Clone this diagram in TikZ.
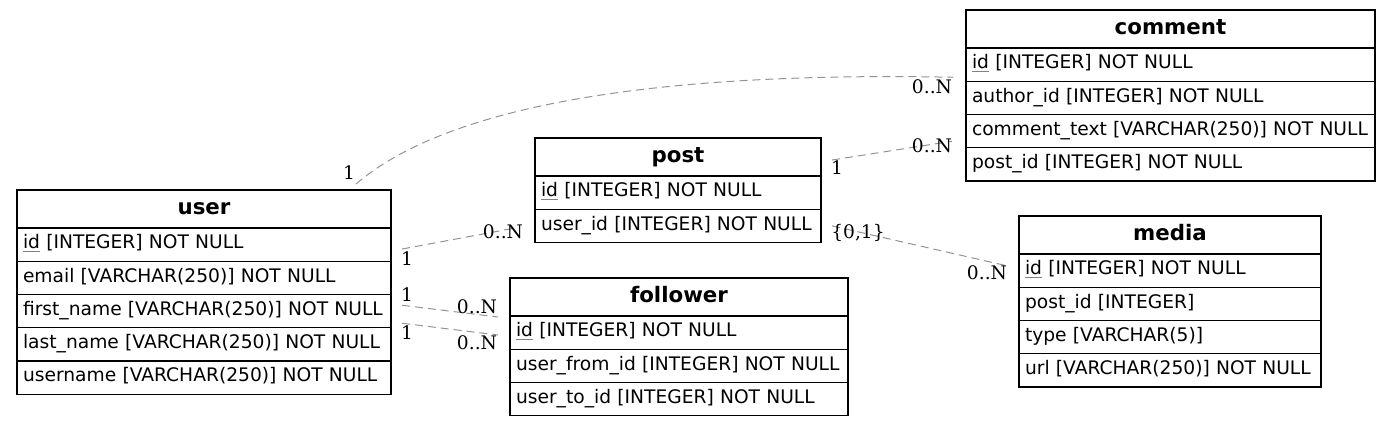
\documentclass[tikz,border=0pt]{standalone}
\usepackage{fontspec}
\setmainfont{DejaVu Sans}
\newfontfamily\cardfont{DejaVu Serif}
\usetikzlibrary{positioning}

\tikzset{
  head/.style={draw, line width=0.8pt, anchor=north west, minimum width=#1, minimum height=28.5pt,
    inner sep=0pt, outer sep=0pt, text height=10.5pt, text depth=3pt, font=\fontsize{16}{18}\selectfont\bfseries},
  row/.style={draw, line width=0.8pt, anchor=north west, text width=#1, minimum height=24.94pt,
    inner xsep=4.5pt, inner ysep=0pt, outer sep=0pt, align=left, text height=10.5pt, text depth=4pt,
    font=\fontsize{14}{16}\selectfont},
  fk/.style={gray!85, line width=0.75pt, dash pattern=on 6pt off 3.75pt},
  card/.style={font=\cardfont\fontsize{14}{16}\selectfont, inner sep=0pt}
}
\newcommand{\pkid}{{\color{gray}\underline{\color{black}id}}}

\begin{document}
\begin{tikzpicture}[x=0.75pt,y=-0.75pt]
    \useasboundingbox (0,0) rectangle (1391,426);

    % user
    \node[head=280.5pt] (user-h) at (17,190) {user};
    \node[row=271.5pt] (user-id) at (user-h.south west) {\pkid{} [INTEGER] NOT NULL};
    \node[row=271.5pt] (user-em) at (user-id.south west) {email [VARCHAR(250)] NOT NULL};
    \node[row=271.5pt] (user-fn) at (user-em.south west) {first\_name [VARCHAR(250)] NOT NULL};
    \node[row=271.5pt] (user-ln) at (user-fn.south west) {last\_name [VARCHAR(250)] NOT NULL};
    \node[row=271.5pt] (user-un) at (user-ln.south west) {username [VARCHAR(250)] NOT NULL};

    % post
    \node[head=214.5pt] (post-h) at (535,138) {post};
    \node[row=205.5pt] (post-id) at (post-h.south west) {\pkid{} [INTEGER] NOT NULL};
    \node[row=205.5pt] (post-uid) at (post-id.south west) {user\_id [INTEGER] NOT NULL};

    % comment
    \node[head=306.75pt] (comment-h) at (966,10) {comment};
    \node[row=297.75pt] (comment-id) at (comment-h.south west) {\pkid{} [INTEGER] NOT NULL};
    \node[row=297.75pt] (comment-aid) at (comment-id.south west) {author\_id [INTEGER] NOT NULL};
    \node[row=297.75pt] (comment-txt) at (comment-aid.south west) {comment\_text [VARCHAR(250)] NOT NULL};
    \node[row=297.75pt] (comment-pid) at (comment-txt.south west) {post\_id [INTEGER] NOT NULL};

    % follower
    \node[head=253.5pt] (follower-h) at (510,278) {follower};
    \node[row=244.5pt] (follower-id) at (follower-h.south west) {\pkid{} [INTEGER] NOT NULL};
    \node[row=244.5pt] (follower-from) at (follower-id.south west) {user\_from\_id [INTEGER] NOT NULL};
    \node[row=244.5pt] (follower-to) at (follower-from.south west) {user\_to\_id [INTEGER] NOT NULL};

    % media
    \node[head=226.5pt] (media-h) at (1019,216) {media};
    \node[row=217.5pt] (media-id) at (media-h.south west) {\pkid{} [INTEGER] NOT NULL};
    \node[row=217.5pt] (media-pid) at (media-id.south west) {post\_id [INTEGER]};
    \node[row=217.5pt] (media-type) at (media-pid.south west) {type [VARCHAR(5)]};
    \node[row=217.5pt] (media-url) at (media-type.south west) {url [VARCHAR(250)] NOT NULL};

    % relations
    \draw[fk] ([xshift=-26.25pt,yshift=4.5pt]user-h.north east) .. controls +(104,-89) and +(-253,-5) .. ([xshift=-9.75pt,yshift=3pt]comment-aid.north west);
    \draw[fk] ([xshift=8.25pt,yshift=-2.25pt]post-h.east) -- ([xshift=-10.5pt,yshift=4.9pt]comment-txt.south west);
    \draw[fk] ([xshift=8.25pt,yshift=-3.3pt]user-id.east) -- ([xshift=-16.5pt,yshift=-1.9pt]post-uid.west);
    \draw[fk] ([xshift=8.25pt,yshift=16.9pt]user-fn.south east) -- ([xshift=-9pt,yshift=-0.75pt]follower-h.south west);
    \draw[fk] ([xshift=8.25pt,yshift=3.4pt]user-fn.south east) -- ([xshift=-9pt,yshift=-14.25pt]follower-h.south west);
    \draw[fk] ([xshift=8.25pt]post-uid.east) -- ([xshift=-8.25pt,yshift=3.45pt]media-id.west);

    % cardinalities
    \node[card] (c-uc1) at (349,173) {1};
    \node[card] (c-uc2) at (932,87) {0..N};
    \node[card] (c-pc1) at (837,168) {1};
    \node[card] (c-pc2) at (932,146) {0..N};
    \node[card] (c-up1) at (407,259) {1};
    \node[card] (c-up2) at (503,232) {0..N};
    \node[card] (c-uf1) at (407,295) {1};
    \node[card] (c-uf2) at (477,307) {0..N};
    \node[card] (c-ut1) at (407,333) {1};
    \node[card] (c-ut2) at (477,343) {0..N};
    \node[card] (c-pm1) at (858,233) {\{0,1\}};
    \node[card] (c-pm2) at (987,273) {0..N};
\end{tikzpicture}
\end{document}
